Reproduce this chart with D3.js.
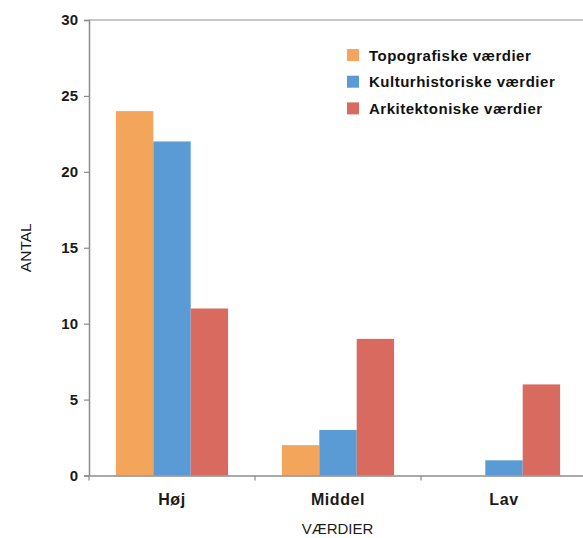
<!DOCTYPE html>
<html>
<head>
<meta charset="utf-8">
<script src="https://cdn.jsdelivr.net/npm/d3@7"></script>
<style>
  body { margin: 0; background: #fff; }
  svg { display: block; font-family: "Liberation Sans", Arial, sans-serif; }
</style>
</head>
<body>
<svg class="canvas"></svg>
<script>
const categories = ['Høj', 'Middel', 'Lav'];
const seriesNames = ['Topografiske værdier', 'Kulturhistoriske værdier', 'Arkitektoniske værdier'];
const topografiske = [24, 2, 0];
const kulturhistoriske = [22, 3, 1];
const arkitektoniske = [11, 9, 6];
const yTicks = [0, 5, 10, 15, 20, 25, 30];
const colors = ['#f2a55b', '#5b9bd5', '#d96a5f'];

const w = 583;
const h = 538;
const plotLeft = 89;
const plotTop = 20;
const plotBottom = 475.5;
const plotRight = 587;

const svg = d3.select('svg.canvas')
    .attr('width', w)
    .attr('height', h);

const seriesValues = [topografiske, kulturhistoriske, arkitektoniske];

const xScale = d3.scaleBand()
    .domain(categories)
    .range([plotLeft, plotRight])
    .padding(0);

const xSub = d3.scaleBand()
    .domain(seriesNames)
    .range([0, xScale.bandwidth()])
    .paddingInner(0)
    .paddingOuter(0.72);

const yScale = d3.scaleLinear()
    .domain([0, 30])
    .range([plotBottom, plotTop]);

// top frame line
svg.append('line')
    .attr('x1', plotLeft).attr('x2', w)
    .attr('y1', yScale(30)).attr('y2', yScale(30))
    .attr('stroke', '#b5b5b5')
    .attr('stroke-width', 1.5);

// bars
const rows = categories.map((c, i) => ({
    cat: c,
    vals: seriesNames.map((s, j) => ({ name: s, value: seriesValues[j][i], color: colors[j] }))
}));

svg.append('g').selectAll('g')
    .data(rows)
    .enter()
    .append('g')
    .attr('transform', d => 'translate(' + xScale(d.cat) + ',0)')
    .selectAll('rect')
    .data(d => d.vals.filter(v => v.value > 0))
    .enter()
    .append('rect')
    .attr('x', d => xSub(d.name))
    .attr('width', xSub.bandwidth())
    .attr('y', d => yScale(d.value))
    .attr('height', d => yScale(0) - yScale(d.value))
    .attr('fill', d => d.color);

// y axis
const yAxis = d3.axisLeft(yScale)
    .tickValues(yTicks)
    .tickSize(5)
    .tickPadding(6);

const yG = svg.append('g')
    .attr('transform', 'translate(' + plotLeft + ',0)')
    .call(yAxis);
yG.select('.domain').attr('stroke', '#8c8c8c').attr('stroke-width', 1.5);
yG.selectAll('.tick line').attr('stroke', '#8c8c8c').attr('stroke-width', 1.2);
yG.selectAll('.tick text')
    .attr('font-size', 15)
    .attr('font-weight', 'bold')
    .attr('fill', '#1a1a1a')
    .attr('font-family', '"Liberation Sans", Arial, sans-serif');

// x axis
const xAxis = d3.axisBottom(xScale)
    .tickSize(0)
    .tickPadding(18);

const xG = svg.append('g')
    .attr('transform', 'translate(0,' + plotBottom + ')')
    .call(xAxis);
xG.select('.domain').attr('stroke', '#8c8c8c').attr('stroke-width', 1.5);
xG.selectAll('.tick text')
    .attr('font-size', 16)
    .attr('font-weight', 'bold')
    .attr('fill', '#1a1a1a')
    .attr('letter-spacing', 0.6)
    .attr('font-family', '"Liberation Sans", Arial, sans-serif');

// category separator ticks
xG.selectAll('.sep')
    .data(categories)
    .enter()
    .append('line')
    .attr('x1', d => xScale(d)).attr('x2', d => xScale(d))
    .attr('y1', 0).attr('y2', 5)
    .attr('stroke', '#8c8c8c')
    .attr('stroke-width', 1.2);

// axis titles
svg.append('text')
    .attr('x', 337.5)
    .attr('y', 534)
    .attr('text-anchor', 'middle')
    .attr('font-size', 15)
    .attr('fill', '#1a1a1a')
    .text('VÆRDIER');

svg.append('text')
    .attr('transform', 'translate(31,' + ((plotTop + plotBottom) / 2) + ') rotate(-90)')
    .attr('text-anchor', 'middle')
    .attr('font-size', 15.5)
    .attr('fill', '#1a1a1a')
    .text('ANTAL');

// legend
const legend = svg.append('g')
    .attr('transform', 'translate(347,55)');

const item = legend.selectAll('g')
    .data(seriesNames)
    .enter()
    .append('g')
    .attr('transform', (d, i) => 'translate(0,' + (i * 26.7) + ')');

item.append('rect')
    .attr('x', 0).attr('y', -6)
    .attr('width', 12).attr('height', 12)
    .attr('fill', (d, i) => colors[i]);

item.append('text')
    .attr('x', 22)
    .attr('y', 5.5)
    .attr('font-size', 15)
    .attr('font-weight', 'bold')
    .attr('letter-spacing', 0.5)
    .attr('fill', '#111')
    .text(d => d);
</script>
</body>
</html>
